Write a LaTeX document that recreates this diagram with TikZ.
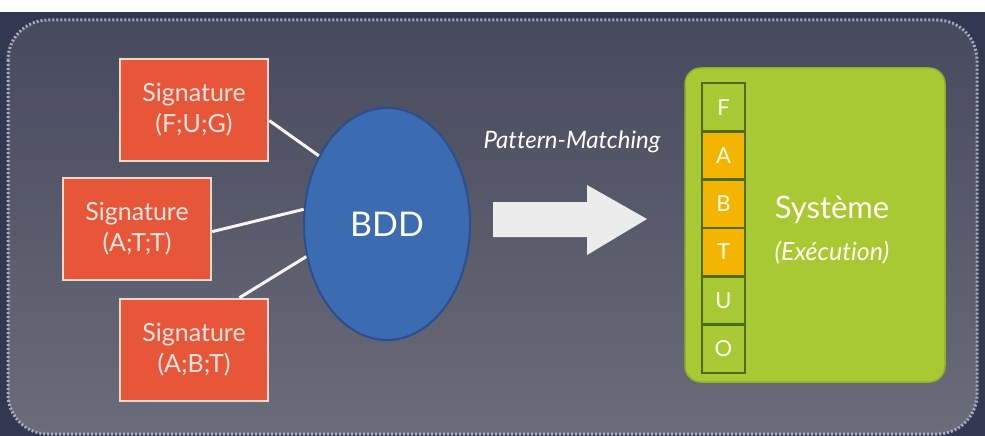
\documentclass[tikz,border=0pt]{standalone}
\usepackage{fontspec}
\setmainfont{Lato}[Ligatures=NoCommon]
\usetikzlibrary{shapes.geometric,calc}
\definecolor{outerbg}{HTML}{323852}
\definecolor{topbg}{HTML}{474A5D}
\definecolor{botbg}{HTML}{6A6C79}
\definecolor{dotcol}{HTML}{ABADBD}
\definecolor{sigred}{HTML}{E8563A}
\definecolor{sigborder}{HTML}{F4D8CE}
\definecolor{sigtext}{HTML}{F8E6DE}
\definecolor{bddblue}{HTML}{3B6CB2}
\definecolor{bddborder}{HTML}{2A4F8C}
\definecolor{limegreen}{HTML}{A9C934}
\definecolor{limeedge}{HTML}{93B02C}
\definecolor{cellborder}{HTML}{4E6B1C}
\definecolor{cellorange}{HTML}{F4B500}
\definecolor{arrowwhite}{HTML}{ECECEC}
\tikzset{
  sigbox/.style={draw=sigborder, line width=2.5pt, fill=sigred, text=sigtext,
    minimum width=148pt, minimum height=102pt, inner sep=0pt, align=center,
    font=\fontsize{25}{31}\selectfont},
  link/.style={draw=white!92!gray, line width=3pt},
  cellbox/.style={draw=cellborder, line width=2.5pt, minimum width=43pt,
    minimum height=48.3pt, inner sep=0pt, text=white!95!yellow,
    font=\fontsize{22}{26}\selectfont},
  greencell/.style={cellbox, fill=limegreen},
  orangecell/.style={cellbox, fill=cellorange}
}
\begin{document}
\begin{tikzpicture}[x=1pt,y=-1pt]
\useasboundingbox (0,0) rectangle (985,436);
% background
\fill[white] (0,0) rectangle (985,436);
\fill[outerbg] (0,12) rectangle (985,436);
\shade[top color=topbg, bottom color=botbg, rounded corners=40pt]
  (8,20) rectangle (977,434);
\draw[dotcol, line width=3pt, dash pattern=on 2pt off 2pt, rounded corners=40pt]
  (8,20) rectangle (977,434);
% signatures
\node[sigbox] (s1) at (194,110) {Signature\\(F;U;G)};
\node[sigbox] (s2) at (137,229) {Signature\\(A;T;T)};
\node[sigbox] (s3) at (194,350) {Signature\\(A;B;T)};
% BDD
\node[ellipse, draw=bddborder, line width=2pt, fill=bddblue, minimum width=166pt,
  minimum height=232pt, inner sep=0pt, text=white,
  font=\fontsize{34}{40}\selectfont] (bdd) at (387,224) {BDD};
% connectors
\draw[link] (s1.-8) -- (bdd.135);
\draw[link] (s2.-2) -- (bdd.170);
\draw[link] (s3.49) -- (bdd.202);
% pattern matching arrow
\node[text=white, font=\itshape\fontsize{24}{28}\selectfont] (pm) at (572,142) {Pattern-Matching};
\fill[arrowwhite] (493,202) -- (587,202) -- (587,185) -- (647,219) -- (587,255)
  -- (587,237) -- (493,237) -- cycle;
% system box
\node[draw=limeedge, line width=1.5pt, fill=limegreen, rounded corners=16pt,
  minimum width=260pt, minimum height=314pt, inner sep=0pt] (sys) at (815,225) {};
\node[text=white!94!yellow, font=\fontsize{31}{36}\selectfont] (systxt) at (832,210) {Système};
\node[text=white!94!yellow, font=\itshape\fontsize{25}{30}\selectfont] (exec) at (832,253) {(Exécution)};
% column
\node[greencell] (cF) at (723.5,107.2) {F};
\node[orangecell] (cA) at (723.5,155.5) {A};
\node[orangecell] (cB) at (723.5,203.8) {B};
\node[orangecell] (cT) at (723.5,252.1) {T};
\node[greencell] (cU) at (723.5,300.4) {U};
\node[greencell] (cO) at (723.5,348.7) {O};
\end{tikzpicture}
\end{document}
